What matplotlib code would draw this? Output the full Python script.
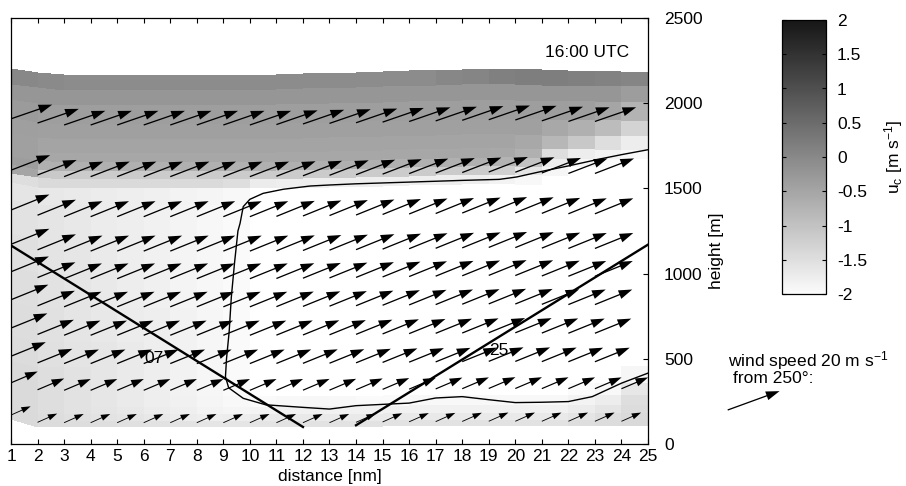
"""
Vertical cross-section of u_c along the approach path, with wind vectors
and the 07/25 glide paths, 16:00 UTC.
"""

import matplotlib.pyplot as plt
import numpy as np
from matplotlib.colors import LinearSegmentedColormap
from matplotlib.ticker import FormatStrFormatter

plt.rcParams['font.family'] = ['Liberation Sans', 'DejaVu Sans']
plt.rcParams['font.size'] = 12.5
plt.rcParams['mathtext.fontset'] = 'custom'
plt.rcParams['mathtext.rm'] = 'Liberation Sans'
plt.rcParams['mathtext.it'] = 'Liberation Sans:italic'
plt.rcParams['axes.unicode_minus'] = False

# grid columns along the runway axis [nm]
distance = [1, 2, 3, 4, 5, 6, 7, 8, 9, 10, 11, 12, 13,
            14, 15, 16, 17, 18, 19, 20, 21, 22, 23, 24, 25]

# terrain-following grid: surface and top height of each column [m]
z_surface = [145, 102, 100, 100, 100, 100, 100, 100, 100, 100, 100, 100, 100,
             102, 104, 105, 106, 107, 108, 108, 108, 108, 108, 108, 108]
z_top = [2200, 2178, 2165, 2165, 2165, 2165, 2165, 2165, 2165, 2165, 2168,
         2172, 2176, 2180, 2184, 2188, 2192, 2196, 2200, 2198, 2192, 2188,
         2188, 2186, 2185]
REF_BOTTOM = 100.0
REF_TOP = 2165.0

# cell edges of the u_c field over a flat column [m]
field_levels = [100, 135, 175, 220, 280, 350, 450, 600, 800, 1000, 1200,
                1400, 1500, 1555, 1605, 1655, 1710, 1790, 1880, 1990, 2080,
                2165]

# u_c [m/s], one row per layer (bottom first), one value per column cell
u_c = [
    [-1.42, -1.45, -1.47, -1.5, -1.52, -1.55, -1.57, -1.6, -1.6, -1.58, -1.55, -1.55,
     -1.55, -1.55, -1.55, -1.55, -1.55, -1.55, -1.55, -1.55, -1.55, -1.5, -1.45, -1.4],
    [-1.42, -1.48, -1.52, -1.57, -1.62, -1.67, -1.72, -1.76, -1.75, -1.7, -1.68, -1.68,
     -1.68, -1.68, -1.68, -1.68, -1.68, -1.68, -1.68, -1.68, -1.68, -1.6, -1.5, -1.42],
    [-1.42, -1.5, -1.55, -1.61, -1.67, -1.73, -1.79, -1.85, -1.88, -1.85, -1.82, -1.82,
     -1.82, -1.82, -1.82, -1.82, -1.82, -1.82, -1.82, -1.82, -1.82, -1.72, -1.6, -1.45],
    [-1.42, -1.5, -1.56, -1.63, -1.7, -1.76, -1.82, -1.88, -1.95, -1.98, -1.95, -1.92,
     -1.95, -1.98, -1.98, -1.95, -1.95, -1.95, -1.95, -1.95, -1.95, -1.85, -1.75, -1.5],
    [-1.42, -1.5, -1.56, -1.63, -1.7, -1.77, -1.84, -1.9, -1.97, -2.05, -2.05, -2.05,
     -2.05, -2.05, -2.05, -2.05, -2.05, -2.05, -2.05, -2.05, -2.05, -2.0, -1.95, -1.65],
    [-1.42, -1.5, -1.56, -1.63, -1.7, -1.77, -1.84, -1.9, -1.97, -2.05, -2.05, -2.05,
     -2.05, -2.05, -2.05, -2.05, -2.05, -2.05, -2.05, -2.05, -2.05, -2.05, -2.05, -1.9],
    [-1.45, -1.52, -1.58, -1.64, -1.7, -1.77, -1.84, -1.9, -1.97, -2.05, -2.05, -2.05,
     -2.05, -2.05, -2.05, -2.05, -2.05, -2.05, -2.05, -2.05, -2.05, -2.05, -2.05, -2.05],
    [-1.48, -1.54, -1.6, -1.66, -1.72, -1.78, -1.84, -1.9, -1.97, -2.05, -2.05, -2.05,
     -2.05, -2.05, -2.05, -2.05, -2.05, -2.05, -2.05, -2.05, -2.05, -2.05, -2.05, -2.05],
    [-1.5, -1.56, -1.62, -1.68, -1.74, -1.8, -1.86, -1.91, -1.97, -2.05, -2.05, -2.05,
     -2.05, -2.05, -2.05, -2.05, -2.05, -2.05, -2.05, -2.05, -2.05, -2.05, -2.05, -2.05],
    [-1.52, -1.58, -1.64, -1.7, -1.76, -1.82, -1.87, -1.92, -1.97, -2.05, -2.05, -2.05,
     -2.05, -2.05, -2.05, -2.05, -2.05, -2.05, -2.05, -2.05, -2.05, -2.05, -2.05, -2.05],
    [-1.55, -1.6, -1.66, -1.72, -1.77, -1.82, -1.87, -1.92, -1.97, -2.05, -2.05, -2.05,
     -2.05, -2.05, -2.05, -2.05, -2.05, -2.05, -2.05, -2.05, -2.05, -2.05, -2.05, -2.05],
    [-1.62, -1.66, -1.7, -1.73, -1.77, -1.81, -1.85, -1.89, -1.95, -2.05, -2.05, -2.05,
     -2.05, -2.05, -2.05, -2.05, -2.05, -2.05, -2.05, -2.05, -2.05, -2.05, -2.05, -2.05],
    [-1.5, -1.42, -1.42, -1.42, -1.42, -1.42, -1.42, -1.42, -1.5, -1.72, -1.78, -1.78,
     -1.78, -1.78, -1.78, -1.78, -1.78, -1.78, -1.85, -1.95, -2.05, -2.05, -2.05, -2.05],
    [-0.5, -1.12, -1.15, -1.15, -1.15, -1.15, -1.15, -1.15, -1.15, -1.15, -1.15, -1.15,
     -1.15, -1.15, -1.15, -1.15, -1.15, -1.15, -1.25, -1.6, -1.9, -2.05, -2.05, -2.05],
    [-0.35, -0.68, -0.68, -0.68, -0.68, -0.68, -0.68, -0.68, -0.68, -0.68, -0.68, -0.68,
     -0.68, -0.68, -0.68, -0.68, -0.68, -0.68, -0.75, -1.0, -1.75, -1.9, -2.0, -2.05],
    [-0.42, -0.52, -0.52, -0.52, -0.52, -0.52, -0.52, -0.52, -0.52, -0.52, -0.52, -0.52,
     -0.52, -0.52, -0.52, -0.52, -0.52, -0.52, -0.55, -0.7, -1.5, -1.75, -1.85, -1.95],
    [-0.42, -0.47, -0.47, -0.47, -0.47, -0.47, -0.47, -0.47, -0.47, -0.47, -0.47, -0.47,
     -0.47, -0.47, -0.47, -0.47, -0.47, -0.47, -0.47, -0.55, -0.8, -1.1, -1.5, -1.75],
    [-0.38, -0.42, -0.42, -0.42, -0.42, -0.42, -0.42, -0.42, -0.42, -0.42, -0.42, -0.42,
     -0.42, -0.42, -0.42, -0.42, -0.42, -0.42, -0.42, -0.42, -0.55, -0.7, -0.9, -1.3],
    [-0.32, -0.37, -0.37, -0.37, -0.37, -0.37, -0.37, -0.37, -0.37, -0.37, -0.37, -0.37,
     -0.37, -0.37, -0.37, -0.37, -0.37, -0.37, -0.37, -0.37, -0.37, -0.4, -0.5, -0.75],
    [-0.25, -0.25, -0.25, -0.25, -0.25, -0.25, -0.25, -0.25, -0.25, -0.25, -0.25, -0.25,
     -0.25, -0.25, -0.25, -0.25, -0.25, -0.25, -0.22, -0.22, -0.22, -0.22, -0.25, -0.35],
    [0.0, -0.02, -0.05, -0.05, -0.05, -0.05, -0.05, -0.05, -0.05, -0.05, -0.05, -0.05,
     -0.05, -0.05, -0.05, -0.05, 0.02, 0.05, 0.15, 0.18, 0.18, 0.15, 0.12, 0.05],
]

# wind vectors: levels over a flat column [m], speed [m/s] and
# direction [deg] per level
wind_levels = [125, 315, 472, 638, 805, 970, 1132, 1334, 1569, 1872]
wind_speed = [7.8, 10.5, 13.6, 14.2, 14.6, 14.8, 15.0, 15.0, 15.2, 15.8]
wind_dir = [246, 247, 248, 248, 248, 248, 248, 248, 249, 251]
KEY_SPEED = 20.0
KEY_DIR = 250.0

# 3 degree glide paths
glide_07_x = [1, 12]
glide_07_z = [1165, 100]
glide_25_x = [14, 25]
glide_25_z = [110, 1170]

# outline of the region below the jet
outline_x = [25.0, 24.0, 23.2, 22.0, 21.0, 20.05, 19.4, 18.0, 16.0, 14.0, 13.0,
             12.27, 11.26, 10.5, 10.0, 9.75, 9.63, 9.55, 9.42, 9.3, 9.22, 9.12,
             9.08, 9.2, 9.75, 10.6, 12.0, 13.0, 14.0, 16.0, 17.0, 18.0, 19.0,
             20.0, 21.0, 22.0, 22.9, 24.0, 25.0]
outline_z = [1727, 1698, 1673, 1632, 1600, 1567, 1553, 1547, 1537, 1527, 1520,
             1514, 1495, 1471, 1436, 1393, 1295, 1250, 1060, 860, 660, 500,
             395, 330, 268, 230, 215, 205, 225, 240, 270, 278, 260, 243, 245,
             249, 278, 357, 416]

W, H = 906, 486
ARROW_DOTS = 55.2  # length of the 20 m/s key arrow on screen


def terrain_following(levels, ncol):
    sigma = (np.asarray(levels, float) - REF_BOTTOM) / (REF_TOP - REF_BOTTOM)
    surf = np.asarray(z_surface[:ncol], float)
    top = np.asarray(z_top[:ncol], float)
    return surf + sigma[:, None] * (top - surf)


fig = plt.figure(figsize=(W / 100, H / 100), dpi=100)
ax = fig.add_axes([11 / W, 42 / H, 637 / W, 426 / H])
ax.set_xlim(1, 25)
ax.set_ylim(0, 2500)

cmap = LinearSegmentedColormap.from_list('uc_grey', ['#fbfbfb', '#161616'])
cmap.set_under('white')

zf = terrain_following(field_levels, len(distance))
xf = np.broadcast_to(np.asarray(distance, float), zf.shape)
mesh = ax.pcolormesh(xf, zf, np.array(u_c), cmap=cmap, vmin=-2, vmax=2,
                     shading='flat', antialiased=False, zorder=1)

# wind vectors, tails on the grid points; gnuplot-like: drop arrows whose
# head would run past the right edge
ncol = len(distance) - 1
zw = terrain_following(wind_levels, ncol)
xw = np.broadcast_to(np.asarray(distance[:ncol], float), zw.shape)
spd = np.broadcast_to(np.asarray(wind_speed, float)[:, None], zw.shape)
rad = np.broadcast_to(np.radians(wind_dir)[:, None], zw.shape)
u = -spd * np.sin(rad)
v = -spd * np.cos(rad)

scale = KEY_SPEED / ARROW_DOTS
tails = ax.transData.transform(np.column_stack([xw.ravel(), zw.ravel()]))
heads_x = tails[:, 0] + (u.ravel() / scale)
right_edge = ax.transData.transform((25, 0))[0]
keep = (heads_x <= right_edge + 0.5).reshape(zw.shape)

Q = ax.quiver(xw[keep], zw[keep], u[keep], v[keep], angles='uv',
              scale_units='dots', scale=scale, units='dots', width=1.3,
              headwidth=7.0, headlength=10.5, headaxislength=10.5,
              minshaft=2.3, color='black', zorder=3)

ax.plot(glide_07_x, glide_07_z, color='black', lw=1.7, zorder=4)
ax.plot(glide_25_x, glide_25_z, color='black', lw=1.7, zorder=4)
ax.plot(outline_x, outline_z, color='black', lw=1.0, zorder=4)
ax.text(6.39, 500, '07', ha='center', va='center', zorder=5)
ax.text(19.38, 547, '25', ha='center', va='center', zorder=5)
ax.text(0.97, 0.92, '16:00 UTC', transform=ax.transAxes,
        ha='right', va='center')

ax.set_xticks(distance)
ax.set_yticks([0, 500, 1000, 1500, 2000, 2500])
ax.tick_params(direction='in', top=True, bottom=True, left=False, right=True,
               labelleft=False, labelright=True, length=3.6, width=0.8)
ax.tick_params(axis='x', pad=3.5)
ax.tick_params(axis='y', pad=11.5)
for s in ax.spines.values():
    s.set_linewidth(0.9)
ax.set_xlabel('distance [nm]', labelpad=3.5)
fig.text(716 / W, 1 - 251 / H, 'height [m]', rotation=90,
         ha='center', va='center')

cax = fig.add_axes([782 / W, 192 / H, 44 / W, 274 / H])
cb = fig.colorbar(mesh, cax=cax)
cb.set_ticks([-2, -1.5, -1, -0.5, 0, 0.5, 1, 1.5, 2])
cax.yaxis.set_major_formatter(FormatStrFormatter('%g'))
cax.tick_params(direction='in', left=True, right=True, length=3.2,
                width=0.8, pad=8)
cb.outline.set_linewidth(0.9)
cb.set_label(r'u$_{\rm c}$ [m s$^{-1}$]', labelpad=11)

ax.quiverkey(Q, 727.7 / W, 1 - 410 / H, KEY_SPEED, '', labelpos='W',
             coordinates='figure', angle=270 - KEY_DIR)
fig.text(728 / W, 1 - 366.7 / H, 'wind speed 20 m s$^{-1}$', va='baseline')
fig.text(733 / W, 1 - 383.3 / H, 'from 250\u00b0:', va='baseline')

fig.savefig('out.png', dpi=100)
